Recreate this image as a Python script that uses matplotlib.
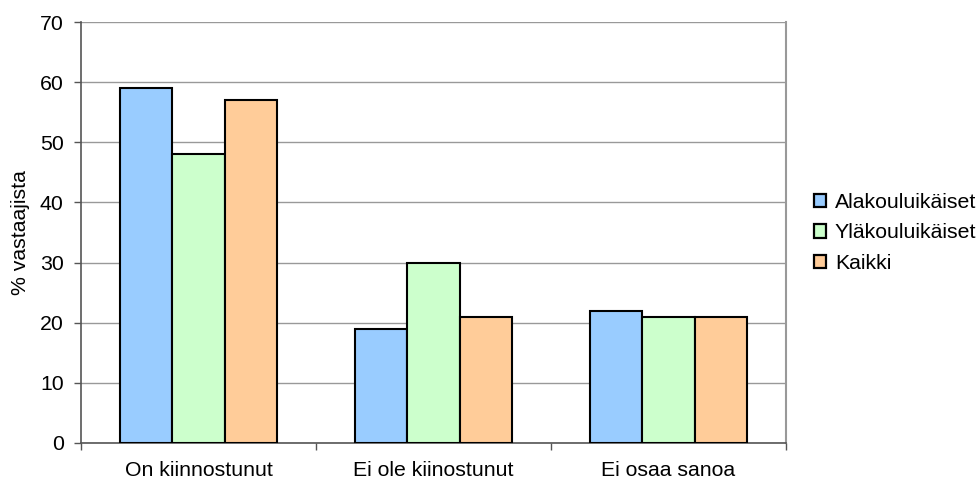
import matplotlib
matplotlib.use("Agg")
import matplotlib.pyplot as plt
import numpy as np
from matplotlib.patches import Patch

categories = ["On kiinnostunut", "Ei ole kiinostunut", "Ei osaa sanoa"]
series_names = ["Alakouluikäiset", "Yläkouluikäiset", "Kaikki"]
alakoulu = [59, 19, 22]
ylakoulu = [48, 30, 21]
kaikki = [57, 21, 21]
colors = ["#99CCFF", "#CCFFCC", "#FFCC99"]
yticks = [0, 10, 20, 30, 40, 50, 60, 70]

FS = 15.3
plt.rcParams['font.family'] = ['Liberation Sans', 'DejaVu Sans']
fig = plt.figure(figsize=(9.78, 4.83), dpi=100)
ax = fig.add_axes([81/978, 1-443/483, (786-81)/978, (443-22)/483])

x = np.arange(len(categories))
w = 0.222
for i, (vals, c) in enumerate(zip([alakoulu, ylakoulu, kaikki], colors)):
    ax.bar(x + (i - 1) * w, vals, width=w, color=c, edgecolor="black", linewidth=1.5, zorder=3)

ax.set_xlim(-0.5, len(categories) - 0.5)
ax.set_ylim(0, 70)
ax.set_yticks(yticks)
ax.tick_params(axis='y', direction='out', length=5, width=1, color='#555555', labelsize=FS, pad=7.5)
ax.yaxis.grid(True, color='#999999', linewidth=1, zorder=0)
ax.set_xticks(x)
ax.set_xticklabels(categories, fontsize=FS)
ax.tick_params(axis='x', length=0, pad=13)
ax.set_xticks(np.arange(-0.5, len(categories)), minor=True)
ax.tick_params(axis='x', which='minor', direction='out', length=5, width=1, color='#555555')

for s in ['left', 'bottom']:
    ax.spines[s].set_color('#555555')
    ax.spines[s].set_linewidth(1.2)
ax.spines['top'].set_visible(False)
ax.spines['right'].set_color('#999999')
ax.spines['right'].set_linewidth(1.5)

ax.set_ylabel("% vastaajista", fontsize=FS, labelpad=7)

handles = [Patch(facecolor=c, edgecolor='black', linewidth=1.6) for c in colors]
fig.legend(handles, series_names, loc='center left', bbox_to_anchor=(803/978, 1-233/483),
           frameon=False, fontsize=FS, handlelength=0.6, handleheight=0.6,
           handletextpad=0.4, labelspacing=0.55, borderpad=0)

fig.savefig("out.png", dpi=100)
